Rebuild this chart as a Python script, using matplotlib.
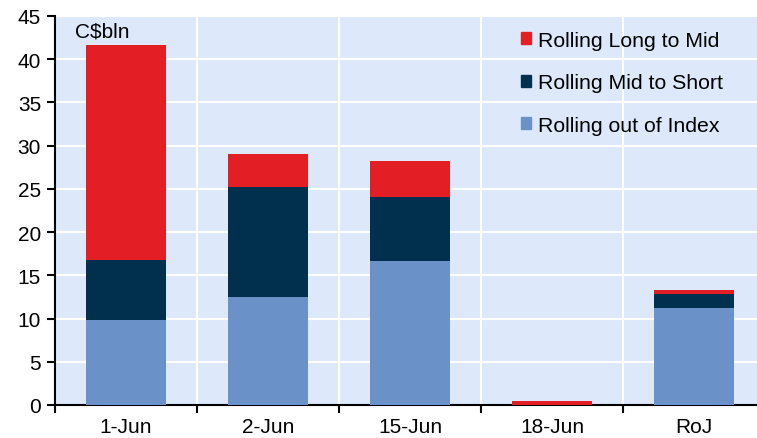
import numpy as np
import matplotlib
matplotlib.use("Agg")
import matplotlib.pyplot as plt
from matplotlib.patches import Patch

plt.rcParams['font.family'] = ['Liberation Sans', 'DejaVu Sans']

categories = ["1-Jun", "2-Jun", "15-Jun", "18-Jun", "RoJ"]
out_of_index = [9.8, 12.5, 16.7, 0.0, 11.2]
mid_to_short = [7.0, 12.7, 7.4, 0.0, 1.6]
long_to_mid = [24.8, 3.85, 4.1, 0.5, 0.5]

c_red = "#E31E24"
c_navy = "#00304E"
c_blue = "#6A91C8"
c_bg = "#DDE9FA"

fig = plt.figure(figsize=(7.57, 4.39), dpi=100)
ax = fig.add_axes([55 / 757, 33 / 439, 710 / 757, 389 / 439])
ax.set_facecolor(c_bg)

x = np.arange(len(categories))
w = 0.57
b1 = np.array(out_of_index)
b2 = b1 + np.array(mid_to_short)
ax.bar(x, out_of_index, w, color=c_blue, zorder=3)
ax.bar(x, mid_to_short, w, bottom=b1, color=c_navy, zorder=3)
ax.bar(x, long_to_mid, w, bottom=b2, color=c_red, zorder=3)

ax.set_xlim(-0.5, len(categories) - 0.5)
ax.set_ylim(0, 45)
ax.set_yticks(range(0, 46, 5))
ax.set_xticks(x)
ax.set_xticklabels(categories)
ax.set_xticks(np.arange(-0.5, len(categories), 1), minor=True)
ax.tick_params(axis='x', which='major', length=0, pad=9, labelsize=15)
ax.tick_params(axis='x', which='minor', length=6, width=1.5, direction='out')
ax.tick_params(axis='y', length=6, width=1.5, direction='out', labelsize=15, pad=4)

for v in range(5, 46, 5):
    ax.axhline(v, color='white', lw=1.5, zorder=1)
for b in np.arange(0.5, len(categories) - 1, 1):
    ax.axvline(b, color='white', lw=1.5, zorder=1)

for s in ['top', 'right']:
    ax.spines[s].set_visible(False)
for s in ['left', 'bottom']:
    ax.spines[s].set_linewidth(1.5)

ax.text(20 / 710, 0.985, "C$bln", transform=ax.transAxes, fontsize=15, va='top', ha='left')

handles = [Patch(color=c_red, label="Rolling Long to Mid"),
           Patch(color=c_navy, label="Rolling Mid to Short"),
           Patch(color=c_blue, label="Rolling out of Index")]
ax.legend(handles=handles, loc='upper left', bbox_to_anchor=(0.656, 0.962), frameon=False,
          fontsize=15.3, handlelength=0.5, handleheight=0.5, handletextpad=0.3,
          labelspacing=1.1, borderpad=0, borderaxespad=0)

fig.savefig("out.png", dpi=100)
